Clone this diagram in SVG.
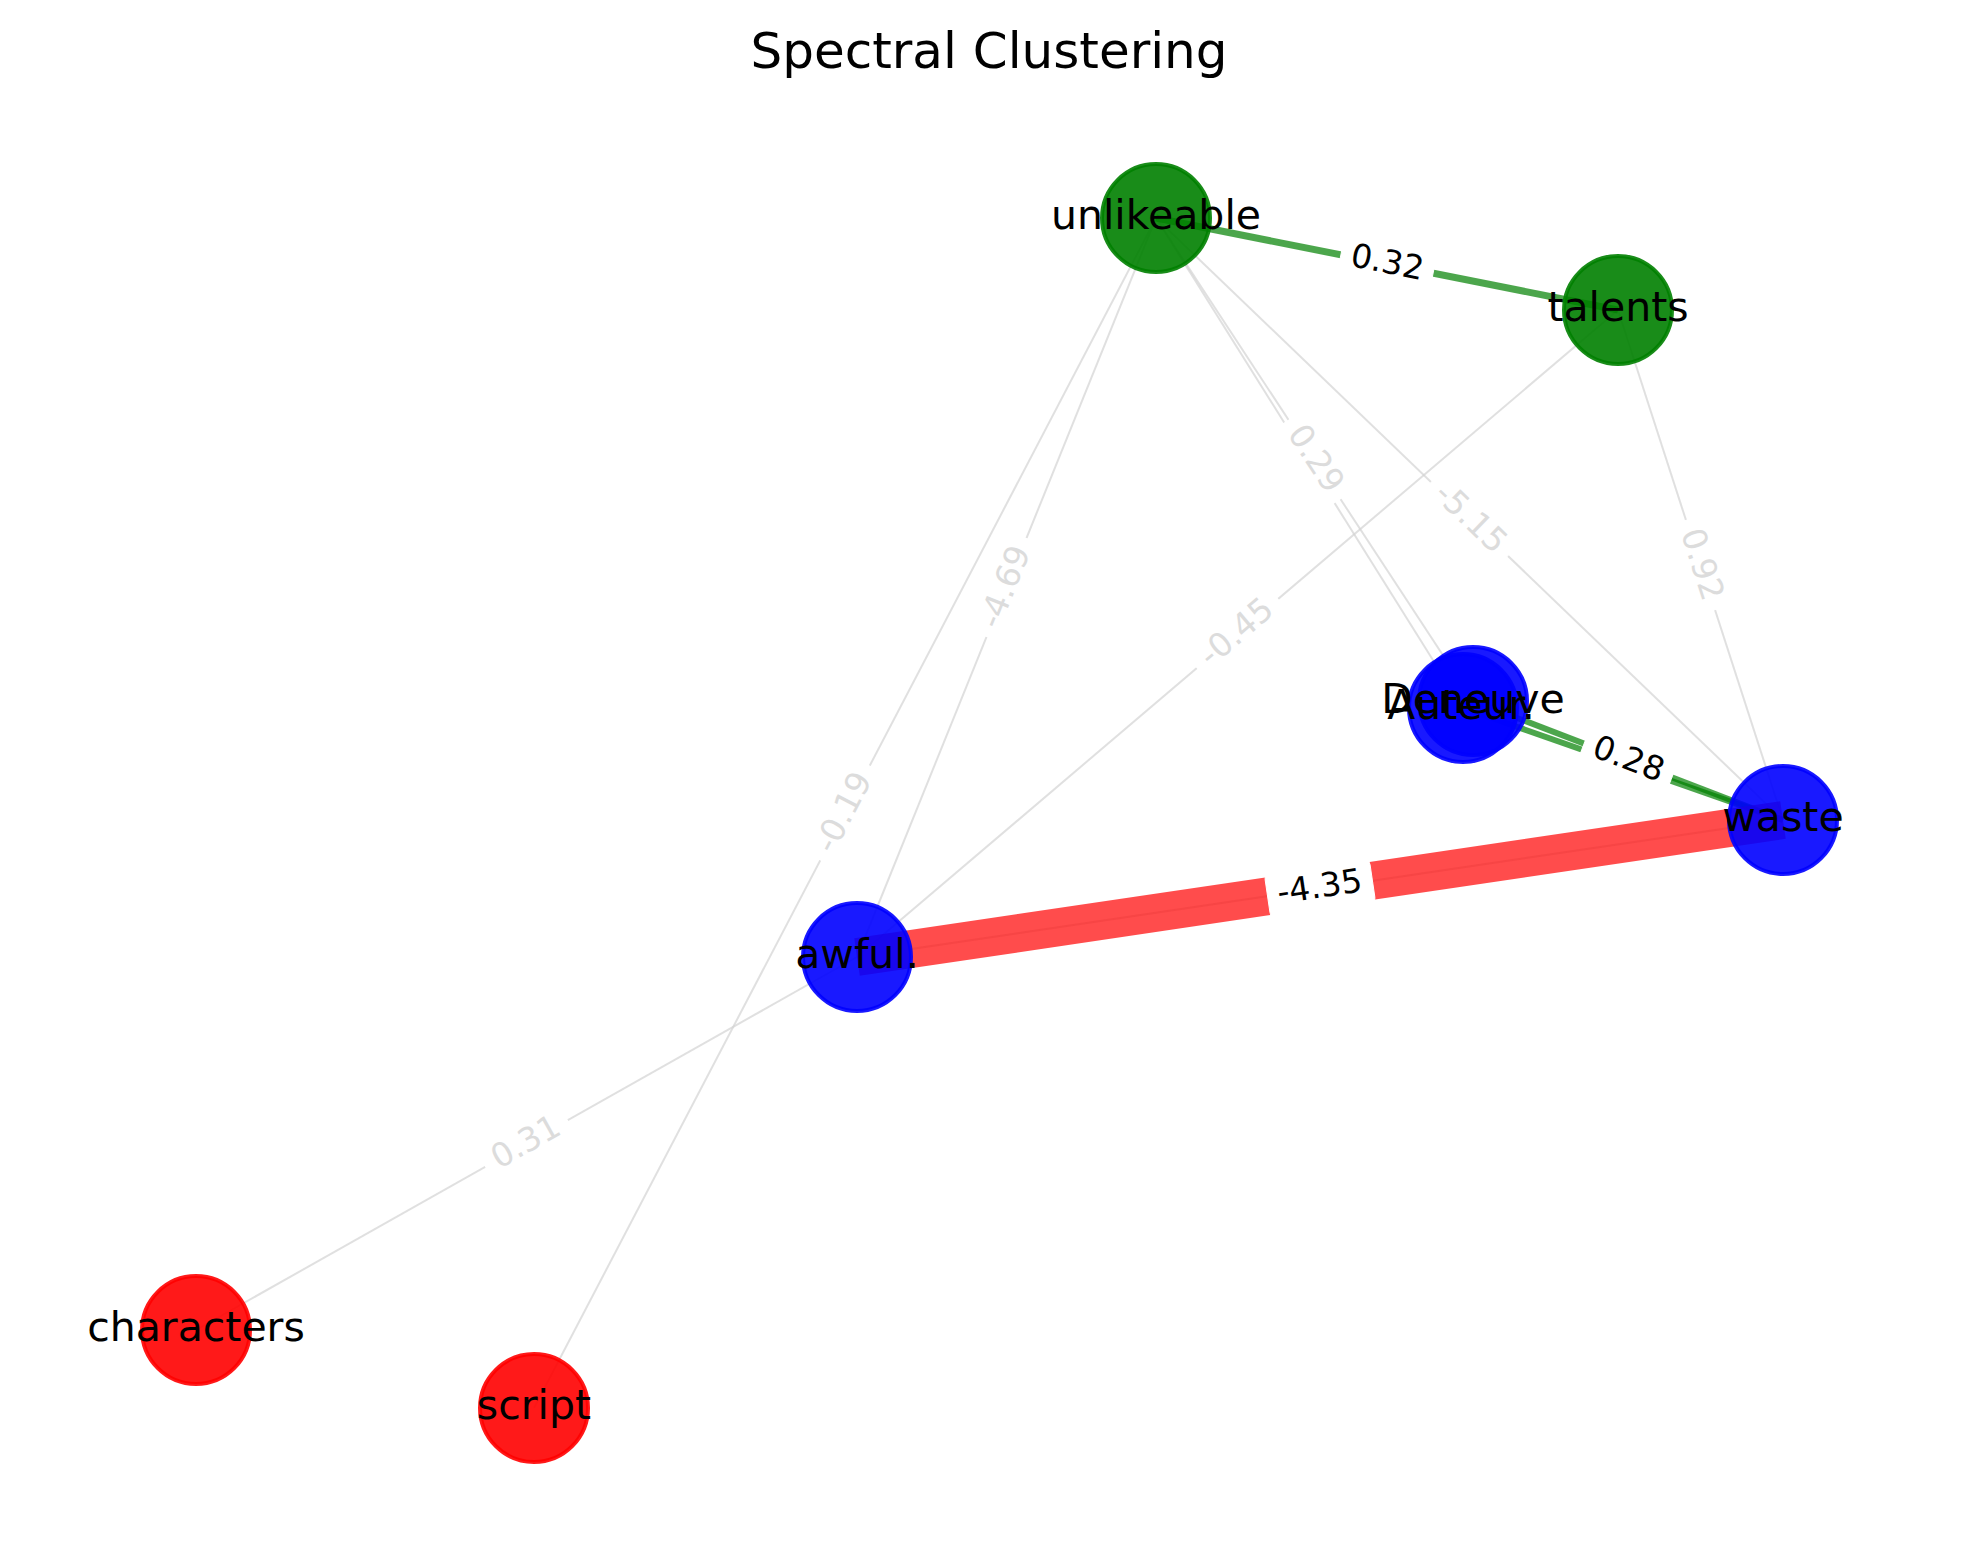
<svg xmlns="http://www.w3.org/2000/svg" width="1980" height="1563" viewBox="0 0 1980 1563">
  <style>
    text { font-family: "DejaVu Sans", "Liberation Sans", sans-serif; }
    .title { font-size: 50px; fill: #000; text-anchor: middle; }
    .node-label { font-size: 41px; fill: #000; text-anchor: middle; }
    .edge-label { font-size: 33px; text-anchor: middle; }
    .edge-label.strong { fill: #000; }
    .edge-label.weak { fill: #dcdcdc; }
    .lbl-box { fill: #fff; stroke: #fff; stroke-width: 1; }
    .e-weak { stroke: #d3d3d3; stroke-opacity: 0.7; stroke-width: 2; fill: none; }
    .e-green { stroke: #008000; stroke-opacity: 0.7; fill: none; }
    .e-red { stroke: #ff0000; stroke-opacity: 0.7; fill: none; }
    .n-green { fill: #008000; fill-opacity: 0.9; stroke: #008000; stroke-opacity: 0.9; stroke-width: 4; }
    .n-blue { fill: #0000ff; fill-opacity: 0.9; stroke: #0000ff; stroke-opacity: 0.9; stroke-width: 4; }
    .n-red { fill: #ff0000; fill-opacity: 0.9; stroke: #ff0000; stroke-opacity: 0.9; stroke-width: 4; }
  </style>

  <rect x="0" y="0" width="1980" height="1563" fill="#ffffff"/>

  <text class="title" x="989" y="68">Spectral Clustering</text>

  <!-- edges, drawn beneath the nodes -->
  <g id="edges">
    <line class="e-weak" x1="1156" y1="218" x2="1473" y2="701"/>
    <line class="e-weak" x1="1156" y1="218" x2="1463" y2="708"/>
    <line class="e-weak" x1="1156" y1="218" x2="1783" y2="820"/>
    <line class="e-weak" x1="1618" y1="310" x2="1783" y2="820"/>
    <line class="e-weak" x1="1618" y1="310" x2="857" y2="957"/>
    <line class="e-weak" x1="1156" y1="218" x2="857" y2="957"/>
    <line class="e-weak" x1="1156" y1="218" x2="534" y2="1408"/>
    <line class="e-weak" x1="857" y1="957" x2="196" y2="1330"/>
    <line class="e-green" stroke-width="7" x1="1156" y1="218" x2="1618" y2="310"/>
    <line class="e-green" stroke-width="6" x1="1473" y1="701" x2="1783" y2="820"/>
    <line class="e-green" stroke-width="6" x1="1463" y1="708" x2="1783" y2="820"/>
    <line class="e-red" stroke-width="38" x1="857" y1="957" x2="1783" y2="820"/>
    <line stroke="#e03030" stroke-opacity="0.25" stroke-width="2" x1="857" y1="957" x2="1783" y2="820"/>
  </g>

  <!-- nodes -->
  <g id="node-unlikeable">
    <circle class="n-green" cx="1156" cy="218" r="54"/>
    <text class="node-label" x="1156" y="229">unlikeable</text>
  </g>
  <g id="node-talents">
    <circle class="n-green" cx="1618" cy="310" r="54"/>
    <text class="node-label" x="1618" y="321">talents</text>
  </g>
  <g id="node-deneuve">
    <circle class="n-blue" cx="1473" cy="701" r="54"/>
  </g>
  <g id="node-auteur">
    <circle class="n-blue" cx="1463" cy="708" r="54"/>
  </g>
  <g id="node-waste">
    <circle class="n-blue" cx="1783" cy="820" r="54"/>
    <text class="node-label" x="1783" y="831">waste</text>
  </g>
  <g id="node-awful">
    <circle class="n-blue" cx="857" cy="957" r="54"/>
    <text class="node-label" x="857" y="968">awful.</text>
  </g>
  <g id="node-characters">
    <circle class="n-red" cx="196" cy="1330" r="54"/>
    <text class="node-label" x="196" y="1341">characters</text>
  </g>
  <g id="node-script">
    <circle class="n-red" cx="534" cy="1408" r="54"/>
    <text class="node-label" x="534" y="1419">script</text>
  </g>
  <!-- labels of the two coincident nodes, printed on top of each other -->
  <g id="labels-overlap">
    <text class="node-label" x="1473" y="713">Deneuve</text>
    <text class="node-label" x="1461" y="719">Auteur.</text>
  </g>

  <!-- edge weight labels -->
  <g id="edge-labels">
    <g transform="translate(1387,264) rotate(11.26)">
      <rect class="lbl-box" x="-47" y="-26" width="94" height="52" rx="10"/>
      <text class="edge-label strong" y="9">0.32</text>
    </g>
    <g transform="translate(1320,888.5) rotate(-8.42)">
      <rect class="lbl-box" x="-53" y="-26" width="106" height="52" rx="10"/>
      <text class="edge-label strong" y="9">-4.35</text>
    </g>
    <g transform="translate(1628,760.5) rotate(21.0)">
      <rect class="lbl-box" x="-47" y="-26" width="94" height="52" rx="10"/>
      <text class="edge-label strong" y="9">0.28</text>
    </g>
    <g transform="translate(1314.5,459.5) rotate(56.7)">
      <rect class="lbl-box" x="-47" y="-26" width="94" height="52" rx="10"/>
      <text class="edge-label weak" y="9">0.29</text>
    </g>
    <g transform="translate(1469.5,519) rotate(43.8)">
      <rect class="lbl-box" x="-53" y="-26" width="106" height="52" rx="10"/>
      <text class="edge-label weak" y="9">-5.15</text>
    </g>
    <g transform="translate(1700.5,565) rotate(72.07)">
      <rect class="lbl-box" x="-47" y="-26" width="94" height="52" rx="10"/>
      <text class="edge-label weak" y="9">0.92</text>
    </g>
    <g transform="translate(1237.5,633.5) rotate(-40.37)">
      <rect class="lbl-box" x="-53" y="-26" width="106" height="52" rx="10"/>
      <text class="edge-label weak" y="9">-0.45</text>
    </g>
    <g transform="translate(1006.5,587.5) rotate(-67.97)">
      <rect class="lbl-box" x="-53" y="-26" width="106" height="52" rx="10"/>
      <text class="edge-label weak" y="9">-4.69</text>
    </g>
    <g transform="translate(845,813) rotate(-62.4)">
      <rect class="lbl-box" x="-53" y="-26" width="106" height="52" rx="10"/>
      <text class="edge-label weak" y="9">-0.19</text>
    </g>
    <g transform="translate(526.5,1143.5) rotate(-29.43)">
      <rect class="lbl-box" x="-47" y="-26" width="94" height="52" rx="10"/>
      <text class="edge-label weak" y="9">0.31</text>
    </g>
  </g>
</svg>
